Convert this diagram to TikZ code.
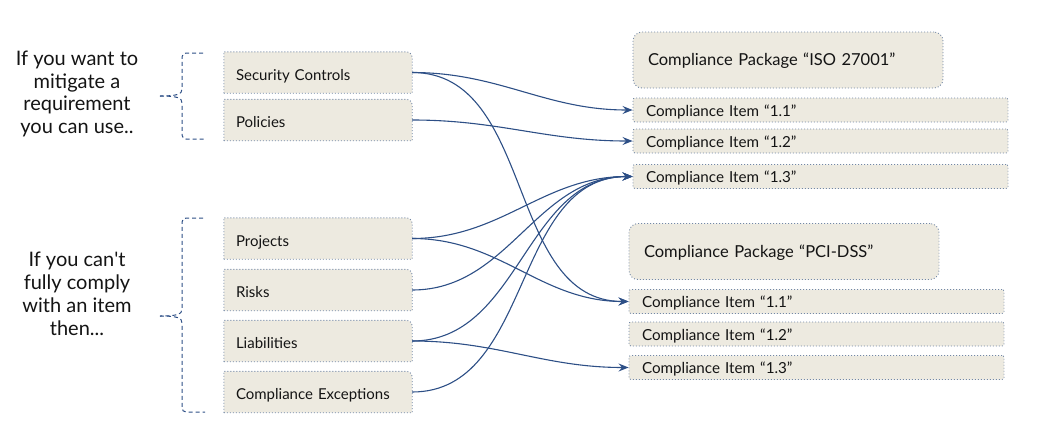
\documentclass[tikz,border=0pt]{standalone}
\usepackage{fontspec}
\setmainfont{Lato}
\usetikzlibrary{arrows.meta,backgrounds}
\definecolor{beige}{HTML}{EDEAE0}
\definecolor{bordc}{HTML}{7388A6}
\definecolor{linec}{HTML}{2D4F86}
\definecolor{textc}{HTML}{141414}
\tikzset{
  bdot/.style={dash pattern=on 0.9pt off 2.1pt, line width=0.9pt},
  box/.style={inner ysep=0pt, text=textc, align=left, font=\fontsize{15}{17}\selectfont},
  lbox/.style={box, text width=164pt, inner xsep=12pt, minimum height=41pt, text height=15pt, text depth=0pt},
  lborder/.style={draw=bordc, bdot, fill=beige},
  pkg/.style={box, draw=bordc, bdot, fill=beige, rounded corners=9pt, text width=280pt, inner xsep=15pt, minimum height=56pt, text height=11pt, text depth=0pt, font=\fontsize{16.5}{19}\selectfont},
  item/.style={box, draw=bordc, bdot, fill=beige, rounded corners=2pt, text width=349pt, inner xsep=13pt, minimum height=24pt, text height=12pt, text depth=0pt, font=\fontsize{15.2}{17}\selectfont},
  side/.style={align=center, text=textc, font=\fontsize{20}{22.8}\selectfont},
  brace/.style={draw=linec, line width=1pt, dash pattern=on 4pt off 3pt},
  conn/.style={draw=linec, line width=1.1pt, -{Stealth[length=10pt,width=8pt,inset=3.5pt]}}
}
\begin{document}
\begin{tikzpicture}[x=1pt,y=-1pt]
\useasboundingbox (0,0) rectangle (1045,434);
% left side texts
\node[side] (t1) at (77,94) {If you want to\\mitigate a\\requirement\\you can use..};
\node[side] (t2) at (77,294) {If you can\textquotesingle t\\fully comply\\with an item\\then...};
% left boxes
\node[lbox] (sc) at (318,72.5) {Security Controls};
\node[lbox] (po) at (318,120) {Policies};
\node[lbox] (pr) at (318,238.5) {Projects};
\node[lbox] (ri) at (318,290) {Risks};
\node[lbox] (li) at (318,341) {Liabilities};
\node[lbox] (ce) at (318,392) {Compliance Exceptions};
\begin{scope}[on background layer]
\foreach \n in {sc,po,pr,ri,li,ce}{
  \path[lborder] (\n.south west) -- (\n.north west) -- ([xshift=-6pt]\n.north east)
     arc[start angle=90,end angle=0,radius=6pt] -- (\n.south east) -- cycle;
}
\end{scope}
% ISO package
\node[pkg] (iso) at (788,60) {Compliance Package “ISO 27001”};
\node[item] (i11) at (820.5,110) {Compliance Item “1.1”};
\node[item] (i12) at (820.5,141) {Compliance Item “1.2”};
\node[item] (i13) at (820.5,176.5) {Compliance Item “1.3”};
% PCI package
\node[pkg] (pci) at (784,251.5) {Compliance Package “PCI-DSS”};
\node[item] (p11) at (816.5,301.5) {Compliance Item “1.1”};
\node[item] (p12) at (816.5,334) {Compliance Item “1.2”};
\node[item] (p13) at (816.5,367.5) {Compliance Item “1.3”};
% braces
\coordinate (b1tip) at (160,96);
\coordinate (b2tip) at (160,316);
\draw[brace] (203,53) -- (186,53) to[out=180,in=90] (182,57) -- (182,89)
   .. controls (182,94) and (178,96) .. (b1tip);
\draw[brace] (b1tip) .. controls (178,96) and (182,98) .. (182,103)
   -- (182,135) to[out=-90,in=180] (186,139) -- (205,139);
\draw[brace] (203,218) -- (186,218) to[out=180,in=90] (182,222) -- (182,309)
   .. controls (182,314) and (178,316) .. (b2tip);
\draw[brace] (b2tip) .. controls (178,316) and (182,318) .. (182,323)
   -- (182,408) to[out=-90,in=180] (186,412) -- (205,412);
% connectors
\draw[conn] (sc.east) to[out=0,in=180] (i11.west);
\draw[conn] (sc.east) to[out=0,in=180] (p11.west);
\draw[conn] (po.east) to[out=0,in=180] (i12.west);
\draw[conn] (pr.east) to[out=0,in=180] (i13.west);
\draw[conn] (pr.east) to[out=0,in=180] (p11.west);
\draw[conn] (ri.east) to[out=0,in=180] (i13.west);
\draw[conn] (li.east) to[out=0,in=180] (i13.west);
\draw[conn] (li.east) to[out=0,in=180] (p13.west);
\draw[conn] (ce.east) to[out=0,in=180] (i13.west);
\end{tikzpicture}
\end{document}
